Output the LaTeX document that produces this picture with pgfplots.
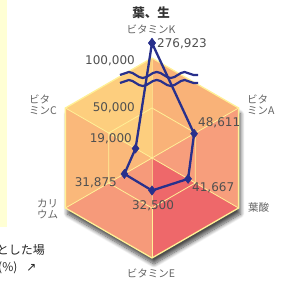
\documentclass[border=0pt]{standalone}
\usepackage{fontspec}
\setmainfont{DejaVu Sans}
\newfontfamily\jp{Noto Sans CJK JP}
\newfontfamily\dv{DejaVu Sans}
\usepackage{pgfplots}
\pgfplotsset{compat=1.18}
\usepgfplotslibrary{polar}
\usetikzlibrary{decorations.pathmorphing,shadows.blur}
\definecolor{navy}{RGB}{40,48,140}
\definecolor{panel}{RGB}{255,255,212}
\definecolor{secUL}{RGB}{253,206,126}
\definecolor{secUR}{RGB}{249,178,120}
\definecolor{secL}{RGB}{250,184,122}
\definecolor{secR}{RGB}{247,158,124}
\definecolor{secLL}{RGB}{246,154,122}
\definecolor{secLR}{RGB}{238,104,106}
\definecolor{gridc}{RGB}{255,240,150}
\definecolor{numc}{RGB}{80,80,80}
\definecolor{labc}{RGB}{100,100,100}
\begin{document}
\begin{tikzpicture}
\begin{axis}[width=286pt,height=283pt,scale only axis,
  xmin=-152,xmax=134,ymin=-125,ymax=158,
  hide axis, clip=false]
% left panel
\fill[panel] (axis cs:-152,158) rectangle (axis cs:-145,-69);
% shadow
\fill[white, blur shadow={shadow xshift=2pt, shadow yshift=-6pt, shadow blur steps=10, shadow blur radius=4pt, shadow opacity=70}]
  (axis cs:0,100) -- (axis cs:86.6,50) -- (axis cs:86.6,-50) -- (axis cs:0,-100) -- (axis cs:-86.6,-50) -- (axis cs:-86.6,50) -- cycle;
% sectors
\addplot[data cs=polar, fill=secUL, draw=none] coordinates {(0,0) (90,100) (150,100)};
\addplot[data cs=polar, fill=secUR, draw=none] coordinates {(0,0) (30,100) (90,100)};
\addplot[data cs=polar, fill=secR, draw=none] coordinates {(0,0) (-30,100) (30,100)};
\addplot[data cs=polar, fill=secLR, draw=none] coordinates {(0,0) (-90,100) (-30,100)};
\addplot[data cs=polar, fill=secLL, draw=none] coordinates {(0,0) (-150,100) (-90,100)};
\addplot[data cs=polar, fill=secL, draw=none] coordinates {(0,0) (150,100) (210,100)};
% grid
\addplot[data cs=polar, draw=gridc, line width=0.8pt] coordinates {(90,50) (30,50) (-30,50) (-90,50) (-150,50) (150,50) (90,50)};
\addplot[data cs=polar, draw=gridc, line width=0.8pt] coordinates {(90,100) (0,0) (-90,100)};
\addplot[data cs=polar, draw=gridc, line width=0.8pt] coordinates {(30,100) (0,0) (-150,100)};
\addplot[data cs=polar, draw=gridc, line width=0.8pt] coordinates {(-30,100) (0,0) (150,100)};
\addplot[data cs=polar, draw=gridc, line width=1.3pt] coordinates {(90,100) (30,100) (-30,100) (-90,100) (-150,100) (150,100) (90,100)};
% break marks
\draw[navy, line width=2.2pt, decorate, decoration={snake, amplitude=3pt, segment length=28pt}] (axis cs:-32,83) -- (axis cs:46,83);
\draw[navy, line width=2.2pt, decorate, decoration={snake, amplitude=3pt, segment length=28pt}] (axis cs:-32,75) -- (axis cs:46,75);
% data
\addplot[data cs=polar, navy, line width=2.3pt, mark=diamond*, mark size=4.6pt, mark options={fill=navy, line width=0.5pt}]
  coordinates {(90,115) (30,48.611) (-30,41.667) (-90,32.5) (-150,31.875) (150,19.0) (90,115)};
% value labels
\begin{scope}[every node/.style={font=\dv\fontsize{12}{13}\selectfont, text=numc, inner sep=0pt}]
\node[anchor=west] at (axis cs:5,114) {276,923};
\node[anchor=east] at (axis cs:-17,97) {100,000};
\node[anchor=east] at (axis cs:-17,50.5) {50,000};
\node[anchor=east] at (axis cs:-20,19) {19,000};
\node[anchor=west] at (axis cs:46,35.5) {48,611};
\node[anchor=west] at (axis cs:40,-29.5) {41,667};
\node[anchor=east] at (axis cs:-35,-24.5) {31,875};
\node at (axis cs:1,-48) {32,500};
\end{scope}
% axis labels
\begin{scope}[every node/.style={font=\jp\fontsize{10.5}{11}\selectfont, text=labc, inner sep=0pt, align=left}]
\node at (axis cs:-1,128.5) {ビタミンK};
\node at (axis cs:-1,-115.5) {ビタミンE};
\node[anchor=west] at (axis cs:-123,53) {ビタ\\ミンC};
\node[anchor=west] at (axis cs:-115,-51) {カリ\\ウム};
\node[anchor=west] at (axis cs:95,53) {ビタ\\ミンA};
\node[anchor=west] at (axis cs:96,-49.5) {葉酸};
\end{scope}
\node[font=\jp\bfseries\fontsize{12.5}{14}\selectfont, text=black!80, inner sep=0pt] at (axis cs:-1,145) {葉、生};
\node[font=\jp\fontsize{12}{14}\selectfont, text=black!85, anchor=east, inner sep=0pt] at (axis cs:-107,-92) {とした場};
\node[font=\jp\fontsize{12}{14}\selectfont, text=black!85, anchor=west, inner sep=0pt] at (axis cs:-154,-110) {(\%)\hspace{9pt}{\dv ↗}};
\end{axis}
\pgfresetboundingbox
\path (current axis.south west) rectangle (current axis.north east);
\end{tikzpicture}
\end{document}
